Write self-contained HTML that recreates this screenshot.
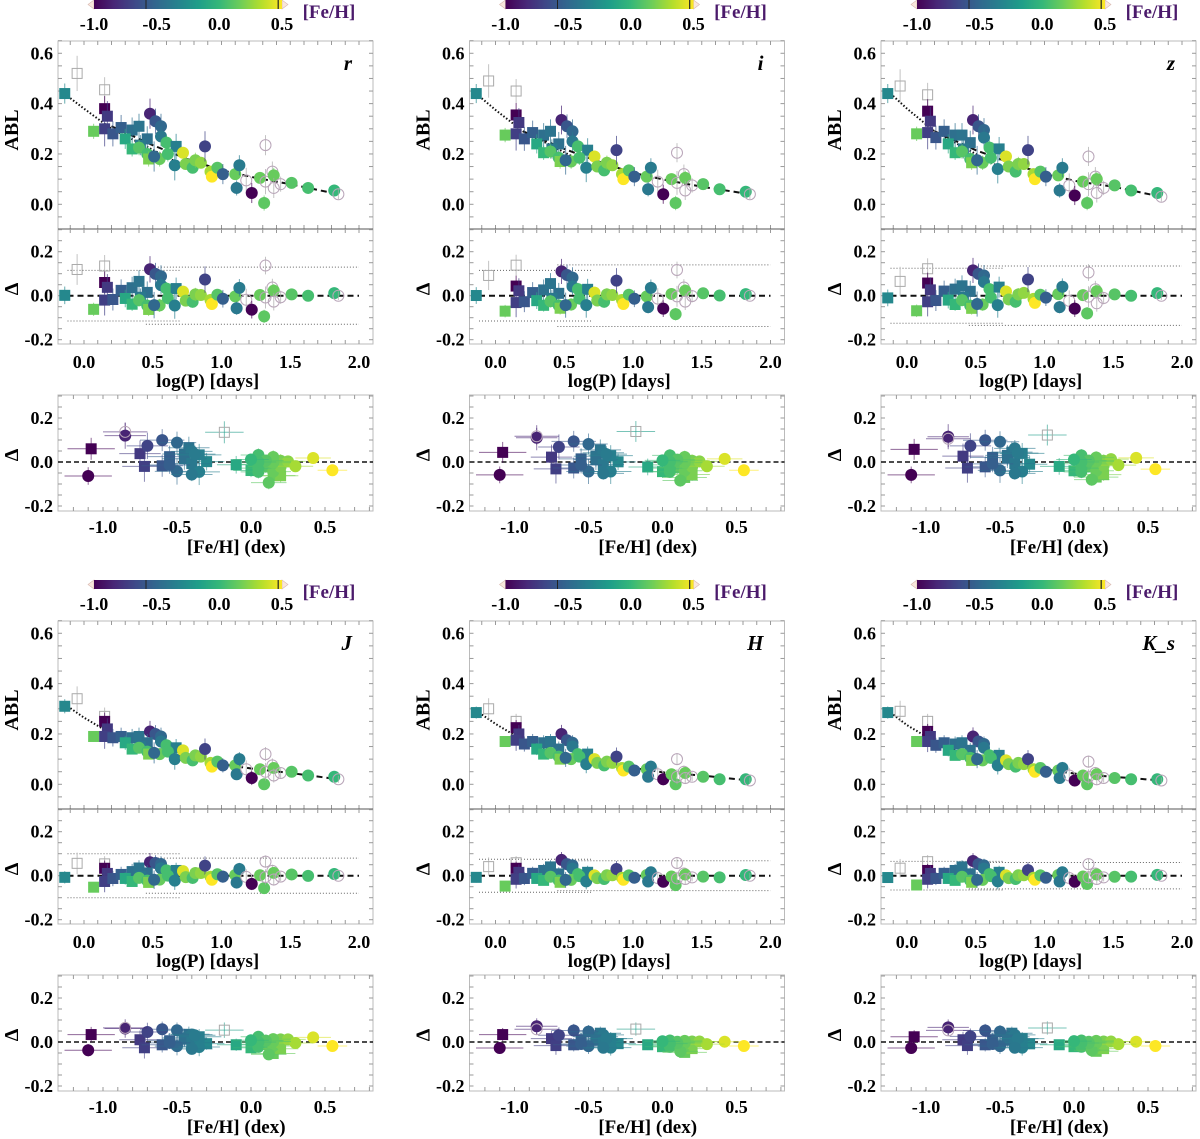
<!DOCTYPE html>
<html><head><meta charset="utf-8"><style>
html,body{margin:0;padding:0;background:#fff;}
svg{display:block;font-family:"Liberation Serif",serif;}
</style></head><body>
<svg id="fig" width="1200" height="1139" viewBox="0 0 1200 1139" xmlns="http://www.w3.org/2000/svg"></svg>
<script>
// ---- data ----
const bands = ["r","i","z","J","H","K_s"];
const logP = [-0.14,-0.05,0.15,0.07,0.15,0.17,0.15,0.21,0.27,0.35,0.40,0.48,0.52,0.56,0.56,0.46,0.41,0.60,0.67,0.30,0.35,0.40,0.46,0.47,0.55,0.61,0.51,0.66,0.72,0.74,0.79,0.81,0.85,0.88,0.92,0.93,0.97,1.01,1.10,1.13,1.11,1.18,1.22,1.28,1.31,1.32,1.32,1.37,1.38,1.38,1.43,1.51,1.63,1.82,1.85];
const feh = [-0.3,null,-0.18,0.15,-1.08,-0.75,-0.72,-0.6,-0.55,-0.45,-0.42,-0.85,-0.6,-0.5,-0.4,-0.45,-0.4,0.05,-0.35,-0.1,0.0,0.1,0.05,0.2,0.15,0.05,-0.5,-0.35,0.42,0.2,0.05,0.2,0.25,-0.7,0.3,0.55,0.1,-0.55,0.15,-0.38,-0.4,null,-1.1,0.15,0.12,-0.85,null,null,0.15,null,null,0.1,0.05,0.0,null];
const kind = ["s","os","os","s","s","s","s","s","s","s","s","c","c","c","c","s","s","c","s","s","s","c","c","s","c","c","c","c","c","c","c","c","c","c","c","c","c","c","c","c","c","oc","c","c","c","oc","oc","oc","c","oc","oc","c","c","c","oc"];
const yErr = [0.04,0.07,0.05,0.03,0.05,0.06,0.07,0.05,0.05,0.05,0.05,0.06,0.05,0.05,0.04,0.05,0.04,0.03,0.05,0.04,0.03,0.03,0.03,0.03,0.03,0.03,0.06,0.06,0.02,0.02,0.02,0.03,0.02,0.06,0.02,0.02,0.02,0.04,0.02,0.04,0.03,0.05,0.04,0.02,0.03,0.04,0.05,0.04,0.03,0.04,0.03,0.02,0.02,0.02,0.02];
const fehErr = [0.12,0.15,0.13,0.15,0.16,0.14,0.15,0.14,0.15,0.15,0.14,0.14,0.15,0.13,0.14,0.15,0.14,0.12,0.15,0.13,0.12,0.12,0.12,0.12,0.12,0.12,0.15,0.14,0.12,0.12,0.12,0.12,0.12,0.14,0.12,0.1,0.12,0.14,0.12,0.14,0.14,0.12,0.16,0.12,0.12,0.15,0.12,0.12,0.12,0.12,0.12,0.12,0.12,0.12,0.12];
const ablR = [0.44,0.52,0.455,0.29,0.38,0.35,0.30,0.28,0.305,0.295,0.31,0.36,0.33,0.31,0.27,0.26,0.235,0.245,0.23,0.26,0.22,0.225,0.20,0.18,0.18,0.20,0.19,0.155,0.205,0.16,0.145,0.175,0.165,0.23,0.13,0.11,0.145,0.12,0.12,0.155,0.065,0.095,0.045,0.105,0.005,0.235,0.09,0.13,0.115,0.065,0.08,0.085,0.065,0.055,0.04];
const ablI = [0.44,0.49,0.45,0.275,0.355,0.325,0.28,0.26,0.285,0.275,0.29,0.335,0.31,0.29,0.25,0.24,0.22,0.23,0.215,0.24,0.205,0.21,0.185,0.17,0.17,0.185,0.175,0.145,0.19,0.15,0.135,0.165,0.155,0.215,0.12,0.10,0.135,0.11,0.11,0.145,0.06,0.09,0.04,0.10,0.005,0.205,0.085,0.12,0.105,0.055,0.075,0.08,0.06,0.05,0.04];
const ablZ = [0.44,0.47,0.435,0.28,0.37,0.33,0.285,0.265,0.29,0.275,0.275,0.335,0.31,0.295,0.265,0.245,0.22,0.225,0.22,0.24,0.205,0.21,0.18,0.165,0.165,0.185,0.175,0.14,0.19,0.15,0.13,0.16,0.16,0.215,0.12,0.10,0.13,0.11,0.115,0.145,0.055,0.075,0.035,0.09,0.005,0.19,0.08,0.11,0.10,0.045,0.065,0.075,0.055,0.045,0.03];
const ablJ = [0.31,0.34,0.27,0.19,0.25,0.22,0.19,0.185,0.19,0.185,0.19,0.21,0.20,0.19,0.17,0.165,0.15,0.155,0.145,0.165,0.14,0.145,0.13,0.12,0.12,0.13,0.125,0.10,0.135,0.105,0.095,0.115,0.11,0.14,0.085,0.07,0.09,0.075,0.075,0.10,0.04,0.06,0.025,0.06,0.0,0.12,0.05,0.075,0.065,0.035,0.045,0.05,0.035,0.03,0.02];
const ablH = [0.285,0.30,0.25,0.17,0.225,0.20,0.175,0.16,0.17,0.165,0.17,0.20,0.175,0.165,0.15,0.14,0.125,0.12,0.12,0.14,0.12,0.125,0.11,0.10,0.10,0.11,0.105,0.08,0.10,0.085,0.075,0.09,0.085,0.11,0.065,0.055,0.07,0.055,0.06,0.07,0.03,0.04,0.02,0.04,0.0,0.10,0.03,0.05,0.045,0.025,0.03,0.03,0.02,0.02,0.015];
const ablK = [0.285,0.29,0.25,0.17,0.21,0.19,0.17,0.155,0.165,0.16,0.165,0.19,0.17,0.16,0.145,0.135,0.12,0.115,0.115,0.135,0.115,0.12,0.105,0.095,0.095,0.105,0.10,0.075,0.095,0.08,0.07,0.085,0.08,0.10,0.06,0.05,0.065,0.05,0.055,0.065,0.025,0.035,0.015,0.035,0.0,0.09,0.03,0.045,0.04,0.02,0.025,0.025,0.02,0.02,0.015];
const dottedX = [-0.12,0.0,0.2,0.4,0.7];
const dashedX = [0.2,0.5,0.75,1.0,1.25,1.5,1.85];
const dotR=[0.43,0.38,0.30,0.245,0.16], dashR=[0.31,0.235,0.18,0.135,0.105,0.08,0.04];
const dotI=[0.43,0.375,0.29,0.235,0.15], dashI=[0.29,0.22,0.17,0.125,0.095,0.07,0.04];
const dotZ=[0.44,0.38,0.29,0.23,0.14], dashZ=[0.29,0.215,0.165,0.12,0.09,0.07,0.03];
const dotJ=[0.31,0.265,0.20,0.155,0.10], dashJ=[0.20,0.145,0.11,0.08,0.06,0.045,0.02];
const dotH=[0.285,0.24,0.175,0.13,0.075], dashH=[0.175,0.125,0.095,0.065,0.045,0.035,0.015];
const dotK=[0.285,0.235,0.17,0.125,0.07], dashK=[0.17,0.12,0.09,0.06,0.04,0.03,0.015];
const sigLeft = [0.115,0.115,0.125,0.10,0.075,0.065];
const sigRight = [0.13,0.14,0.135,0.08,0.068,0.06];
const errScale = [1,0.95,0.95,0.7,0.6,0.6];
const cbTicks = [-1.0,-0.5,0.0,0.5];
const ablTicks = [0.0,0.2,0.4,0.6];
const dTicks = [-0.2,0.0,0.2];
const pTicks = [0.0,0.5,1.0,1.5,2.0];
const fTicks = [-1.0,-0.5,0.0,0.5];
const ablSets=[ablR,ablI,ablZ,ablJ,ablH,ablK];
const dotSets=[dotR,dotI,dotZ,dotJ,dotH,dotK];
const dashSets=[dashR,dashI,dashZ,dashJ,dashH,dashK];

// ---- helpers ----
const NS="http://www.w3.org/2000/svg";
const svg=document.getElementById('fig');
function mk(tag,attrs,parent){const e=document.createElementNS(NS,tag);for(const k in attrs)e.setAttribute(k,attrs[k]);(parent||svg).appendChild(e);return e;}
const VIR=[[68,1,84],[72,40,120],[62,74,137],[49,104,142],[38,130,142],[31,158,137],[53,183,121],[109,205,89],[180,222,44],[253,231,37]];
function viridis(t){t=Math.max(0,Math.min(1,t));const s=t*(VIR.length-1);const i=Math.min(VIR.length-2,Math.floor(s));const f=s-i;const c=VIR[i].map((v,k)=>Math.round(v+(VIR[i+1][k]-v)*f));return `rgb(${c[0]},${c[1]},${c[2]})`;}
function fcol(f){return viridis((f+1.0)/1.5);}
function interp(xs,ys,x){if(x<=xs[0]){const s=(ys[1]-ys[0])/(xs[1]-xs[0]);return ys[0]+s*(x-xs[0]);}for(let i=0;i<xs.length-1;i++){if(x<=xs[i+1]){return ys[i]+(ys[i+1]-ys[i])*(x-xs[i])/(xs[i+1]-xs[i]);}}const n=xs.length;const s=(ys[n-1]-ys[n-2])/(xs[n-1]-xs[n-2]);return ys[n-1]+s*(x-xs[n-1]);}
function fmt(v){return v.toFixed(1);}

function marker(g,kindv,cx,cy,color,name){
  let e;
  if(kindv==="s"){e=mk('rect',{x:cx-5.5,y:cy-5.5,width:11,height:11,fill:color},g);}
  else if(kindv==="c"){e=mk('circle',{cx:cx,cy:cy,r:6,fill:color},g);}
  else if(kindv==="os"){e=mk('rect',{x:cx-5,y:cy-5,width:10,height:10,fill:'none',stroke:'#aaa','stroke-width':1},g);}
  else {e=mk('circle',{cx:cx,cy:cy,r:5.5,fill:'none',stroke:'#b9a6b9','stroke-width':1},g);}
  
  
  return e;
}

function ticksBox(g,x0,x1,y0,y1,xs,ys){
  for(const x of xs){mk('line',{x1:x,x2:x,y1:y1,y2:y1-4,stroke:'#999','stroke-width':1},g);mk('line',{x1:x,x2:x,y1:y0,y2:y0+4,stroke:'#999','stroke-width':1},g);}
  for(const y of ys){mk('line',{x1:x0,x2:x0+4,y1:y,y2:y,stroke:'#999','stroke-width':1},g);mk('line',{x1:x1,x2:x1-4,y1:y,y2:y,stroke:'#999','stroke-width':1},g);}
}
function label(g,x,y,txt,size,name,extra){const t=mk('text',Object.assign({x:x,y:y,'font-size':size,'font-weight':'bold','text-anchor':'middle',fill:'#000'},extra||{}),g);t.textContent=txt;
return t;}

// ---- panels ----
for(let b=0;b<6;b++){
  const col=b%3,row=Math.floor(b/3);
  const ox=col*411.5, oy=row*580;
  const g=mk('g',{transform:`translate(${ox},${oy})`});
  
  
  const X=p=>84+p*137.5, YA=v=>204.3-v*251.7, YD=v=>295.7-v*220, XF=f=>251+f*148, YB=v=>462-v*220;
  const abl=ablSets[b], dot=dotSets[b], dash=dashSets[b], es=errScale[b];
  const fitv=i=>logP[i]<0.45?interp(dottedX,dot,logP[i]):interp(dashedX,dash,logP[i]);

  // colorbar
  const cg=mk('g',{},g);
  
  
  const CB=f=>94+(f+1)*125.3;
  const gid='vg'+b;
  const defs=mk('defs',{},cg);
  const lg=mk('linearGradient',{id:gid,x1:0,x2:1,y1:0,y2:0},defs);
  for(let k=0;k<VIR.length;k++){mk('stop',{offset:k/(VIR.length-1),'stop-color':viridis(k/(VIR.length-1))},lg);}
  mk('polygon',{points:'94,0 88,4.5 94,9',fill:'#f8e6dc',stroke:'#d8b8b0','stroke-width':0.6},cg);
  mk('polygon',{points:'282,0 288,4.5 282,9',fill:'#f8e6dc',stroke:'#d8b8b0','stroke-width':0.6},cg);
  mk('rect',{x:94,y:0,width:188,height:9,fill:`url(#${gid})`},cg);
  mk('line',{x1:CB(-0.585),x2:CB(-0.585),y1:0,y2:9,stroke:'#222','stroke-width':1},cg);
  mk('line',{x1:CB(0.47),x2:CB(0.47),y1:0,y2:9,stroke:'#222','stroke-width':1.2},cg);
  for(const t of cbTicks){label(cg,CB(t),30,fmt(t),18,'colorbar-tick');}
  label(cg,329,18,'[Fe/H]',19,'colorbar-title',{fill:'#4b1a6b'});

  // ABL axes
  const ag=mk('g',{},g);
  
  
  mk('rect',{x:58,y:41,width:315,height:188,fill:'none',stroke:'#bbb','stroke-width':1},ag);
  const xm=[];for(let v=-0.1;v<=2.05;v+=0.1)xm.push(X(v));
  const ym=[];for(let v=-0.05;v<=0.65;v+=0.05)ym.push(YA(v));
  ticksBox(ag,58,373,41,229,xm,ym);
  for(const t of ablTicks){label(ag,53,YA(t)+6,fmt(t),18,'abl-tick',{'text-anchor':'end'});}
  label(ag,0,0,'ABL',20,'y-axis-title-abl',{transform:`translate(18,130) rotate(-90)`});
  label(ag,338,70,bands[b],21,'band-label',{'font-style':'italic','text-anchor':'end','x':352});
  // fits
  const dp=dottedX.map((x,i)=>X(x)+','+YA(dot[i])).join(' ');
  const ln1=mk('polyline',{points:dp,fill:'none',stroke:'#111','stroke-width':2,'stroke-dasharray':'1.5,2'},ag);
  
  
  const dsh=dashedX.map((x,i)=>X(x)+','+YA(dash[i])).join(' ');
  const ln2=mk('polyline',{points:dsh,fill:'none',stroke:'#111','stroke-width':2,'stroke-dasharray':'6,4'},ag);
  
  

  // Delta vs logP
  const dg=mk('g',{},g);
  
  
  mk('rect',{x:58,y:229,width:315,height:115,fill:'none',stroke:'#bbb','stroke-width':1},dg);
  mk('line',{x1:58,x2:373,y1:229,y2:229,stroke:'#555','stroke-width':1},dg);
  const ym2=[];for(let v=-0.2;v<=0.3;v+=0.05)ym2.push(YD(v));
  ticksBox(dg,58,373,229,344,xm,ym2);
  for(const t of dTicks){label(dg,53,YD(t)+6,fmt(t),18,'delta-tick',{'text-anchor':'end'});}
  label(dg,0,0,'Δ',20,'y-axis-title-delta',{transform:`translate(18,289) rotate(-90)`});
  for(const t of pTicks){label(dg,X(t),368,fmt(t),18,'logp-tick');}
  label(dg,X(0.9),387,'log(P) [days]',19,'x-axis-title-logp');
  mk('line',{x1:X(-0.12),x2:X(0.7),y1:YD(sigLeft[b]),y2:YD(sigLeft[b]),stroke:'#666','stroke-dasharray':'1,2'},dg);
  mk('line',{x1:X(-0.12),x2:X(0.7),y1:YD(-sigLeft[b]),y2:YD(-sigLeft[b]),stroke:'#666','stroke-dasharray':'1,2'},dg);
  mk('line',{x1:X(0.45),x2:X(2.0),y1:YD(sigRight[b]),y2:YD(sigRight[b]),stroke:'#666','stroke-dasharray':'1,2'},dg);
  mk('line',{x1:X(0.45),x2:X(2.0),y1:YD(-sigRight[b]),y2:YD(-sigRight[b]),stroke:'#666','stroke-dasharray':'1,2'},dg);
  mk('line',{x1:X(-0.12),x2:X(2.0),y1:YD(0),y2:YD(0),stroke:'#111','stroke-width':2,'stroke-dasharray':'6,4'},dg);

  // Delta vs feh
  const fg=mk('g',{},g);
  
  
  mk('rect',{x:58,y:395,width:315,height:116,fill:'none',stroke:'#bbb','stroke-width':1},fg);
  const xm3=[];for(let v=-1.2;v<=0.85;v+=0.1)xm3.push(XF(v));
  const ym3=[];for(let v=-0.2;v<=0.3;v+=0.05)ym3.push(YB(v));
  ticksBox(fg,58,373,395,511,xm3,ym3);
  for(const t of dTicks){label(fg,53,YB(t)+6,fmt(t),18,'delta-tick',{'text-anchor':'end'});}
  label(fg,0,0,'Δ',20,'y-axis-title-delta',{transform:`translate(18,455) rotate(-90)`});
  for(const t of fTicks){label(fg,XF(t),533,fmt(t),18,'feh-tick');}
  label(fg,XF(-0.1),553,'[Fe/H] (dex)',19,'x-axis-title-feh');
  mk('line',{x1:58,x2:373,y1:YB(0),y2:YB(0),stroke:'#111','stroke-width':1.6,'stroke-dasharray':'5,3'},fg);

  // points
  for(let i=0;i<logP.length;i++){
    const open=kind[i][0]==='o';
    const col=open?'#aaa':fcol(feh[i]);
    const e=yErr[i]*es, v=abl[i], r=v-fitv(i);
    mk('line',{x1:X(logP[i]),x2:X(logP[i]),y1:YA(v-e),y2:YA(v+e),stroke:col,'stroke-opacity':0.7,'stroke-width':1},ag);
    marker(ag,kind[i],X(logP[i]),YA(v),col,'star-abl');
    mk('line',{x1:X(logP[i]),x2:X(logP[i]),y1:YD(r-e),y2:YD(r+e),stroke:col,'stroke-opacity':0.7,'stroke-width':1},dg);
    marker(dg,kind[i],X(logP[i]),YD(r),col,'star-residual');
    if(feh[i]!==null){
      const c2=fcol(feh[i]);
      mk('line',{x1:XF(feh[i]-fehErr[i]),x2:XF(feh[i]+fehErr[i]),y1:YB(r),y2:YB(r),stroke:c2,'stroke-opacity':0.6,'stroke-width':1},fg);
      mk('line',{x1:XF(feh[i]),x2:XF(feh[i]),y1:YB(r-e),y2:YB(r+e),stroke:c2,'stroke-opacity':0.6,'stroke-width':1},fg);
      marker(fg,kind[i],XF(feh[i]),YB(r),c2,'star-residual-feh');
    }
  }
}
</script>
</body></html>
